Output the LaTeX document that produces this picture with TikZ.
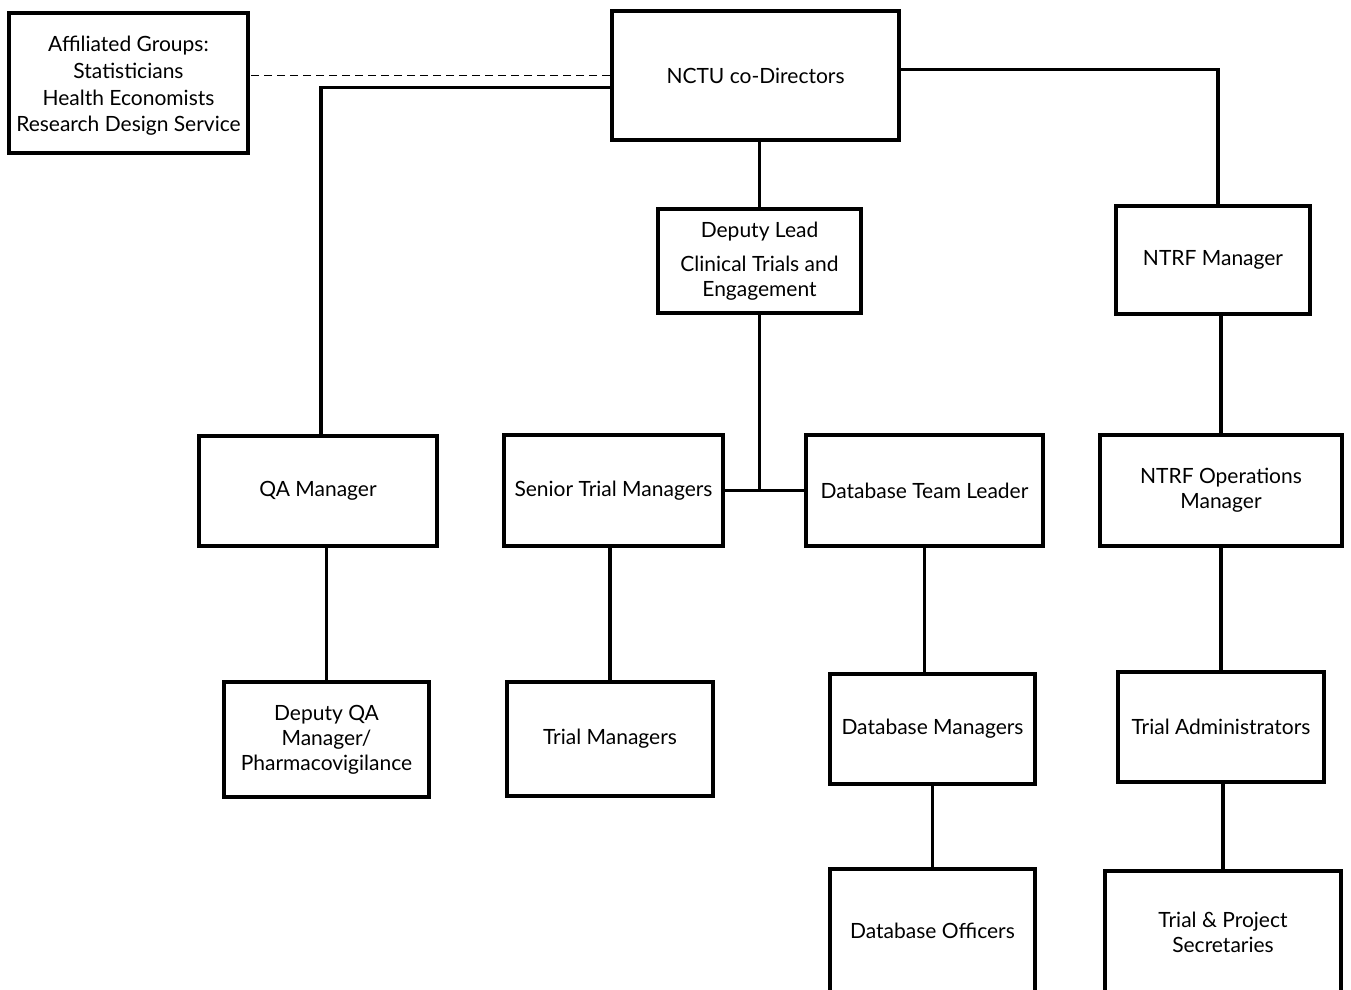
\documentclass[tikz,border=0pt]{standalone}
\usepackage{fontspec}
\setmainfont{Lato}
\begin{document}
\begin{tikzpicture}[x=1pt,y=-1pt,
  box/.style={draw,line width=3.6pt,rectangle,inner sep=0pt,align=center,
    font=\fontsize{21}{25}\selectfont},
  txt/.style={inner sep=0pt,align=center},
  link/.style={line width=3.4pt}]
\useasboundingbox (0,0) rectangle (1351,989);
\clip (0,0) rectangle (1351,989);
\fill[white] (0,0) rectangle (1351,989);
\node[box,minimum width=239pt,minimum height=140pt] (aff) at (128.5,83) {};
\node[txt,font=\fontsize{21}{26.7}\selectfont] (afftext) at ([yshift=-3pt]aff.center) {Affiliated Groups:\\Statisticians\\Health Economists\\Research Design Service};
\node[box,minimum width=287pt,minimum height=129pt] (nctu) at (755.5,75.5) {NCTU co-Directors};
\node[box,minimum width=203pt,minimum height=104pt] (dlead) at (759.5,261) {Deputy Lead\\[9pt]Clinical Trials and\\Engagement};
\node[box,minimum width=194pt,minimum height=108pt] (ntrfm) at (1213,260) {NTRF Manager};
\node[box,minimum width=238pt,minimum height=110pt] (qa) at (318,491) {QA Manager};
\node[box,minimum width=219pt,minimum height=111pt] (stm) at (613.5,490.5) {Senior Trial Managers};
\node[box,minimum width=237pt,minimum height=111pt] (dtl) at (924.5,490.5) {Database Team Leader};
\node[box,minimum width=242pt,minimum height=111pt] (ops) at (1221,490.5) {NTRF Operations\\Manager};
\node[box,minimum width=205pt,minimum height=115pt] (dqa) at (326.5,739.5) {Deputy QA\\Manager/\\Pharmacovigilance};
\node[box,minimum width=206pt,minimum height=114pt] (tm) at (610,739) {Trial Managers};
\node[box,minimum width=205pt,minimum height=110pt] (dm) at (932.5,729) {Database Managers};
\node[box,minimum width=206pt,minimum height=110pt] (ta) at (1221,727) {Trial Administrators};
\node[box,minimum width=205pt,minimum height=124pt] (do) at (932.5,931) {Database Officers};
\node[box,minimum width=236pt,minimum height=122pt] (tps) at (1223,932) {Trial \& Project\\Secretaries};
\draw[line width=1.8pt,dash pattern=on 8pt off 5pt] (nctu.west) -- (nctu.west -| aff.east);
\draw[link] ([yshift=-12pt]nctu.west) -| ([xshift=3pt]qa.north);
\draw[link] ([yshift=6pt]nctu.east) -| ([xshift=5pt]ntrfm.north);
\draw[link] (dlead.north |- nctu.south) -- (dlead.north);
\draw[link] (dlead.south) -- (dlead.south |- stm.east);
\draw[link] (stm.east) -- (dtl.west);
\draw[link] (ntrfm.south -| ops.north) -- (ops.north);
\draw[link] (dqa.north |- qa.south) -- (dqa.north);
\draw[link] (stm.south -| tm.north) -- (tm.north);
\draw[link] (dtl.south) -- (dtl.south |- dm.north);
\draw[link] (ops.south -| ta.north) -- (ta.north);
\draw[link] (dm.south) -- (do.north);
\draw[link] (ta.south -| tps.north) -- (tps.north);
\end{tikzpicture}
\end{document}
